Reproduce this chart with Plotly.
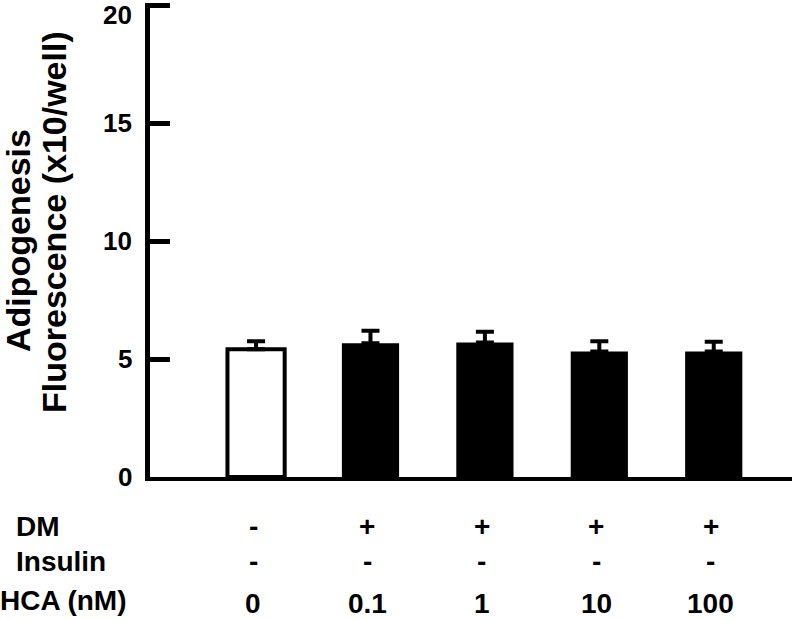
import plotly.graph_objects as go

# ---- data ----
hca_labels = ["0", "0.1", "1", "10", "100"]
dm_labels = ["-", "+", "+", "+", "+"]
insulin_labels = ["-", "-", "-", "-", "-"]
values = [5.42, 5.67, 5.70, 5.32, 5.32]
errors = [0.34, 0.53, 0.46, 0.44, 0.42]
bar_colors = ["white", "black", "black", "black", "black"]
outline_widths = [4, 0, 0, 0, 0]
y_ticks = [0, 5, 10, 15, 20]
row_names = ["DM", "Insulin", "HCA (nM)"]

FONT = "Liberation Sans, Arial, sans-serif"
W, H = 792, 620
ML, MR, MT, MB = 150, 0, 3, 143
plot_bottom = H - MB
Y_TOP = 20.1
ppu = (H - MT - MB) / Y_TOP

fig = go.Figure()
fig.add_trace(go.Bar(
    x=hca_labels, y=values, width=0.5,
    marker=dict(color=bar_colors, line=dict(color="black", width=outline_widths)),
    error_y=dict(type="data", symmetric=False, array=errors,
                 arrayminus=[0] * len(errors), color="black", thickness=4, width=9),
    showlegend=False, hoverinfo="skip",
))

bold = lambda s: dict(family=FONT, size=s, color="black", weight="bold")
annotations = []

# y tick labels (kept inside the page at the top)
for t in y_ticks:
    tick_px = MT + (Y_TOP - t) * ppu
    shift = max(tick_px, 15) - tick_px
    annotations.append(dict(
        x=0, xref="paper", xshift=-16, y=t, yref="y", yshift=-shift,
        text=str(t), showarrow=False, xanchor="right", yanchor="middle",
        font=bold(26)))

# bottom condition rows
rows = [(dm_labels, 526), (insulin_labels, 561), (hca_labels, 603)]
for labels, py in rows:
    for i, txt in enumerate(labels):
        annotations.append(dict(
            x=i, xref="x", xshift=-3, y=0, yref="paper", yshift=plot_bottom - py,
            text=txt, showarrow=False, xanchor="center", yanchor="middle",
            font=bold(28)))
row_pos = [(14, 526), (14, 561), (-2, 600)]
for name, (px, py) in zip(row_names, row_pos):
    annotations.append(dict(
        x=0, xref="paper", xshift=px - ML, y=0, yref="paper", yshift=plot_bottom - py,
        text=name, showarrow=False, xanchor="left", yanchor="middle",
        font=bold(28)))

# y axis title (two lines)
title_lines = [("Adipogenesis", 18, 241), ("Fluorescence (x10/well)", 54, 222)]
for txt, px, py in title_lines:
    annotations.append(dict(
        x=0, xref="paper", xshift=px - ML, y=0, yref="paper", yshift=plot_bottom - py,
        text=txt, textangle=-90, showarrow=False, xanchor="center", yanchor="middle",
        font=bold(34)))

fig.update_layout(
    width=W, height=H,
    margin=dict(l=ML, r=MR, t=MT, b=MB, pad=0),
    paper_bgcolor="white", plot_bgcolor="white",
    xaxis=dict(type="category", range=[-0.927, 4.684], showticklabels=False,
               ticks="", showline=True, linecolor="black", linewidth=4,
               showgrid=False, zeroline=False),
    yaxis=dict(range=[0, Y_TOP], tickvals=y_ticks, ticks="inside", ticklen=20,
               tickwidth=5, tickcolor="black", showline=True, linecolor="black",
               linewidth=5, showgrid=False, zeroline=False, showticklabels=False),
    annotations=annotations,
)

fig.write_html("out.html", config={"displayModeBar": False},
               post_script="document.body.style.margin='0';document.body.style.overflow='hidden';")
